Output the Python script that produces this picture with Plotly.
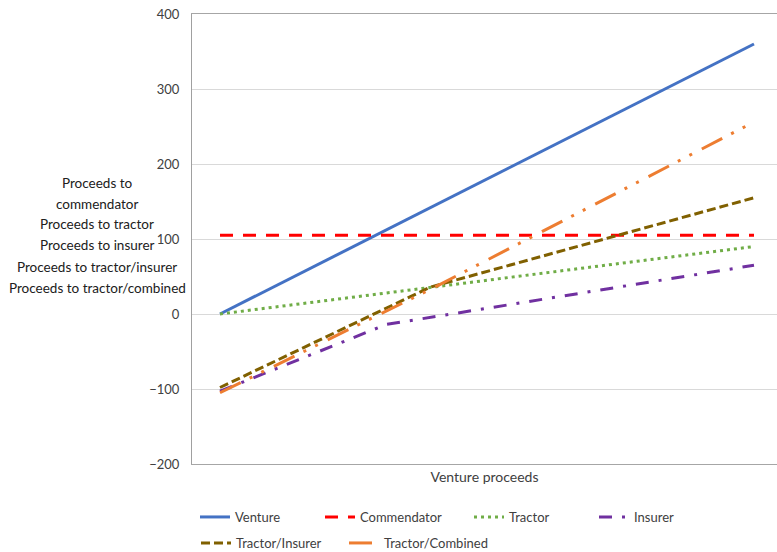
import plotly.graph_objects as go

# Data (venture proceeds on x; proceeds to each party on y)
venture_x = [0, 360]
venture_y = [0, 360]

commendator_x = [0, 360]
commendator_y = [105, 105]

tractor_x = [0, 360]
tractor_y = [0, 90]

insurer_x = [0, 112, 360]
insurer_y = [-103, -14, 65]

tractor_insurer_x = [0, 142, 360]
tractor_insurer_y = [-98, 36, 155]

tractor_combined_x = [0, 142, 360]
tractor_combined_y = [-105, 33, 256]

y_ticks = [-200, -100, 0, 100, 200, 300, 400]
y_title_lines = [
    "Proceeds to",
    "commendator",
    "Proceeds to tractor",
    "Proceeds to insurer",
    "Proceeds to tractor/insurer",
    "Proceeds to tractor/combined",
]

FONT = "Lato, Carlito, Calibri, sans-serif"
TXT = "#404040"

# plot area in pixels
PL, PR, PT, PB = 192, 777, 14, 464
PW, PH = PR - PL, PB - PT

fig = go.Figure()

series = [
    ("Venture", venture_x, venture_y, "#4472C4", "solid"),
    ("Commendator", commendator_x, commendator_y, "#FF0000", "13px,10px"),
    ("Tractor", tractor_x, tractor_y, "#70AD47", "3px,4px"),
    ("Insurer", insurer_x, insurer_y, "#7030A0", "13px,10px,3px,10px"),
    ("Tractor/Insurer", tractor_insurer_x, tractor_insurer_y, "#806000", "9px,4px"),
    ("Tractor/Combined", tractor_combined_x, tractor_combined_y, "#ED7D31",
     "23px,10px,3px,10px,3px,11px"),
]
# legend entry placement (symbol start x, row centre y) in pixels
legend_pos = [(202, 517), (327, 517), (476, 517), (601, 517), (203, 543), (351, 543)]

layout_legends = {}
for i, ((name, xs, ys, color, dash), (lx, ly)) in enumerate(zip(series, legend_pos)):
    key = "legend" if i == 0 else f"legend{i + 1}"
    fig.add_trace(go.Scatter(
        x=xs, y=ys, mode="lines", name=name,
        line=dict(color=color, width=3, dash=dash),
        legend=key,
    ))
    layout_legends[key] = dict(
        orientation="h", x=(lx - 7 - PL) / PW, xanchor="left",
        y=(PB - ly) / PH, yanchor="middle",
        font=dict(size=13, color=TXT, family=FONT), bgcolor="rgba(0,0,0,0)",
    )

x_px_per_unit = (754 - 220) / 360.0
x_min = (PL - 220) / x_px_per_unit
x_max = (PR - 220) / x_px_per_unit

fig.update_layout(
    width=777, height=552,
    margin=dict(l=PL, r=777 - PR, t=PT, b=552 - PB, autoexpand=False),
    paper_bgcolor="white", plot_bgcolor="white",
    font=dict(family=FONT, color=TXT, size=12),
    showlegend=True,
    xaxis=dict(
        range=[x_min, x_max], showticklabels=False, showgrid=False, zeroline=False,
        showline=True, linecolor="#A6A6A6", linewidth=1, mirror=True, ticks="",
        automargin=False,
        title=dict(text="Venture proceeds", font=dict(size=14, color=TXT, family=FONT), standoff=8),
    ),
    yaxis=dict(
        range=[-200, 400], tickvals=y_ticks, showgrid=True, gridcolor="#D9D9D9", gridwidth=1,
        zeroline=False, showline=True, linecolor="#A0A0A0", linewidth=1, ticks="",
        automargin=False,
        tickfont=dict(size=13, color=TXT, family=FONT), ticklabelstandoff=9,
    ),
    **layout_legends,
)

line_y = [183, 204, 224, 245, 267, 288]
for txt, py in zip(y_title_lines, line_y):
    fig.add_annotation(
        text=txt, xref="paper", yref="paper",
        x=(97 - PL) / PW, y=(PB - py) / PH, xanchor="center", yanchor="middle",
        showarrow=False, font=dict(size=13.5, color="#202020", family=FONT),
    )

fig.write_html(
    "out.html",
    config={"displayModeBar": False},
    post_script="document.body.style.margin='0';document.body.style.padding='0';",
)
